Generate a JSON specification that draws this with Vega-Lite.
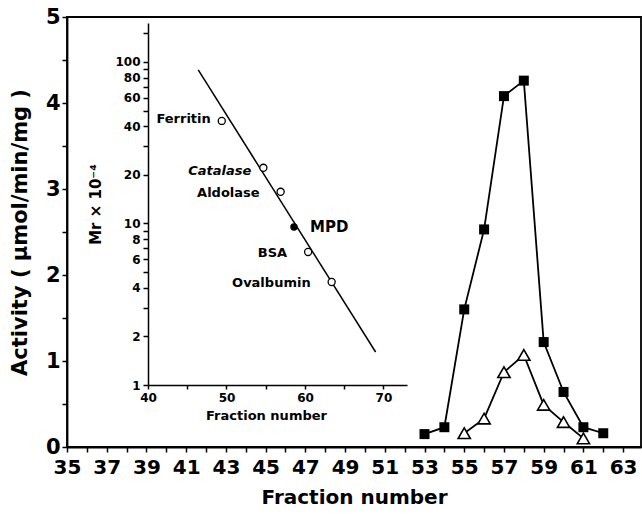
{
  "$schema": "https://vega.github.io/schema/vega-lite/v6.json",
  "width": 574,
  "height": 430,
  "autosize": {"type": "none"},
  "padding": {"left": 67, "top": 17, "right": 1, "bottom": 67},
  "background": "white",
  "config": {
    "view": {"stroke": "black", "strokeWidth": 1.8},
    "font": "DejaVu Sans",
    "axis": {"grid": false, "domainColor": "black", "tickColor": "black", "labelColor": "black", "titleColor": "black", "labelFontWeight": "bold", "titleFontWeight": "bold", "domainWidth": 1.8, "tickWidth": 1.5, "labelOverlap": false, "labelFlush": false}
  },
  "datasets": {
    "main": [
      {"fraction": 53, "activity": 0.15, "series": "filled"},
      {"fraction": 54, "activity": 0.23, "series": "filled"},
      {"fraction": 55, "activity": 1.60, "series": "filled"},
      {"fraction": 56, "activity": 2.53, "series": "filled"},
      {"fraction": 57, "activity": 4.08, "series": "filled"},
      {"fraction": 58, "activity": 4.26, "series": "filled"},
      {"fraction": 59, "activity": 1.22, "series": "filled"},
      {"fraction": 60, "activity": 0.64, "series": "filled"},
      {"fraction": 61, "activity": 0.23, "series": "filled"},
      {"fraction": 62, "activity": 0.16, "series": "filled"},
      {"fraction": 55, "activity": 0.16, "series": "open"},
      {"fraction": 56, "activity": 0.33, "series": "open"},
      {"fraction": 57, "activity": 0.87, "series": "open"},
      {"fraction": 58, "activity": 1.07, "series": "open"},
      {"fraction": 59, "activity": 0.49, "series": "open"},
      {"fraction": 60, "activity": 0.29, "series": "open"},
      {"fraction": 61, "activity": 0.10, "series": "open"}
    ],
    "standards": [
      {"protein": "Ferritin", "fraction": 49.4, "mr": 43.1, "kind": "standard"},
      {"protein": "Catalase", "fraction": 54.7, "mr": 22.1, "kind": "standard"},
      {"protein": "Aldolase", "fraction": 56.9, "mr": 15.7, "kind": "standard"},
      {"protein": "MPD", "fraction": 58.6, "mr": 9.5, "kind": "sample"},
      {"protein": "BSA", "fraction": 60.4, "mr": 6.66, "kind": "standard"},
      {"protein": "Ovalbumin", "fraction": 63.4, "mr": 4.34, "kind": "standard"}
    ],
    "fit": [
      {"fraction": 46.4, "mr": 89.2},
      {"fraction": 69.0, "mr": 1.6}
    ]
  },
  "layer": [
    {
      "data": {"name": "main"},
      "encoding": {
        "x": {
          "field": "fraction", "type": "quantitative",
          "scale": {"domain": [35, 63.9], "nice": false, "zero": false},
          "axis": {
            "values": [35,36,37,38,39,40,41,42,43,44,45,46,47,48,49,50,51,52,53,54,55,56,57,58,59,60,61,62,63],
            "labelExpr": "datum.value % 2 == 1 ? format(datum.value, 'd') : ''",
            "labelFontSize": 20, "tickSize": 5, "labelPadding": 5,
            "title": "Fraction number", "titleFontSize": 20, "titlePadding": 10
          }
        },
        "y": {
          "field": "activity", "type": "quantitative",
          "scale": {"domain": [0, 5], "nice": false},
          "axis": {
            "values": [0,0.5,1,1.5,2,2.5,3,3.5,4,4.5,5],
            "labelExpr": "datum.value % 1 == 0 ? format(datum.value, 'd') : ''",
            "labelFontSize": 21, "tickSize": 5, "labelPadding": 2,
            "title": "Activity  (  μmol/min/mg  )", "titleFontSize": 21, "titlePadding": 15
          }
        }
      },
      "layer": [
        {
          "transform": [{"filter": "datum.series == 'filled'"}],
          "mark": {"type": "line", "color": "black", "strokeWidth": 1.8}
        },
        {
          "transform": [{"filter": "datum.series == 'open'"}],
          "mark": {"type": "line", "color": "black", "strokeWidth": 1.8}
        },
        {
          "transform": [{"filter": "datum.series == 'filled'"}],
          "mark": {"type": "point", "shape": "square", "filled": true, "color": "black", "size": 100, "opacity": 1}
        },
        {
          "transform": [{"filter": "datum.series == 'open'"}],
          "mark": {"type": "point", "shape": "triangle-up", "fill": "white", "stroke": "black", "strokeWidth": 1.6, "size": 150, "opacity": 1}
        }
      ]
    },
    {
      "encoding": {
        "x": {
          "field": "fraction", "type": "quantitative",
          "scale": {"domain": [40, 73], "range": [81, 340], "nice": false, "zero": false},
          "axis": {
            "orient": "bottom", "offset": -62,
            "values": [40,45,50,55,60,65,70],
            "labelExpr": "datum.value % 10 == 0 ? datum.label : ''",
            "labelFontSize": 12, "tickSize": 4, "labelPadding": 3, "domainWidth": 1.5,
            "title": "Fraction number", "titleFontSize": 13, "titlePadding": 6, "titleX": 199
          }
        },
        "y": {
          "field": "mr", "type": "quantitative",
          "scale": {"type": "log", "domain": [1, 174], "range": [368, 6], "nice": false},
          "axis": {
            "orient": "left", "offset": -81,
            "values": [1,2,3,4,5,6,7,8,9,10,20,30,40,50,60,70,80,90,100,150],
            "labelExpr": "indexof([1,2,4,6,8,10,20,40,60,80,100], datum.value) >= 0 ? datum.label : ''",
            "labelFontSize": 12, "tickSize": 5, "labelPadding": 3, "domainWidth": 1.5,
            "title": "Mr × 10⁻⁴", "titleFontSize": 15, "titlePadding": 11
          }
        }
      },
      "layer": [
        {
          "mark": {"type": "rect", "fill": "white", "stroke": "black", "strokeWidth": 1.5},
          "encoding": {
            "x": {"datum": 40, "type": "quantitative"},
            "x2": {"datum": 73},
            "y": {"datum": 1, "type": "quantitative"},
            "y2": {"datum": 174}
          }
        },
        {
          "data": {"name": "fit"},
          "mark": {"type": "line", "color": "black", "strokeWidth": 1.5}
        },
        {
          "data": {"name": "standards"},
          "transform": [{"filter": "datum.kind == 'standard'"}],
          "mark": {"type": "point", "shape": "circle", "fill": "white", "stroke": "black", "strokeWidth": 1.3, "size": 50, "opacity": 1}
        },
        {
          "data": {"name": "standards"},
          "transform": [{"filter": "datum.kind == 'sample'"}],
          "mark": {"type": "point", "shape": "circle", "filled": true, "color": "black", "size": 55, "opacity": 1}
        },
        {
          "data": {"name": "standards"},
          "transform": [{"filter": "datum.protein == 'Ferritin'"}],
          "mark": {"type": "text", "align": "right", "baseline": "middle", "dx": -11, "dy": -2, "fontSize": 13, "fontWeight": "bold", "color": "black"},
          "encoding": {"text": {"field": "protein"}}
        },
        {
          "data": {"name": "standards"},
          "transform": [{"filter": "datum.protein == 'Catalase'"}],
          "mark": {"type": "text", "align": "right", "baseline": "middle", "dx": -12, "dy": 3, "fontSize": 13, "fontWeight": "bold", "fontStyle": "italic", "color": "black"},
          "encoding": {"text": {"field": "protein"}}
        },
        {
          "data": {"name": "standards"},
          "transform": [{"filter": "indexof(['Aldolase','BSA','Ovalbumin'], datum.protein) >= 0"}],
          "mark": {"type": "text", "align": "right", "baseline": "middle", "dx": -21, "dy": 1, "fontSize": 13, "fontWeight": "bold", "color": "black"},
          "encoding": {"text": {"field": "protein"}}
        },
        {
          "data": {"name": "standards"},
          "transform": [{"filter": "datum.protein == 'MPD'"}],
          "mark": {"type": "text", "align": "left", "baseline": "middle", "dx": 16, "fontSize": 15, "fontWeight": "bold", "color": "black"},
          "encoding": {"text": {"field": "protein"}}
        }
      ]
    }
  ],
  "resolve": {"scale": {"x": "independent", "y": "independent"}, "axis": {"x": "independent", "y": "independent"}}
}
